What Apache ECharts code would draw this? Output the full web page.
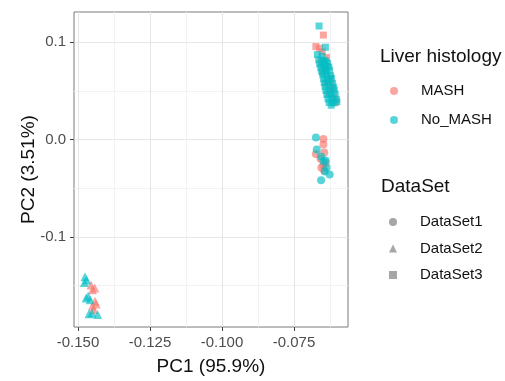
<!DOCTYPE html>
<html>
<head>
<meta charset="utf-8">
<script src="https://cdn.jsdelivr.net/npm/echarts@6/dist/echarts.min.js"></script>
<style>html,body{margin:0;padding:0;background:#fff}#c{width:505px;height:381px}</style>
</head>
<body>
<div id="c"></div>
<script>
// ---- data ----
const xTicks = [-0.150, -0.125, -0.100, -0.075];
const xMinor = [-0.1375, -0.1125, -0.0875, -0.0625];
const yTicks = [-0.1, 0.0, 0.1];
const yMinor = [-0.15, -0.05, 0.05];
const groups = ['MASH', 'No_MASH'];
const datasets = ['DataSet1', 'DataSet2', 'DataSet3'];

const MASH_DataSet1 = [[-0.0648, 0.0005], [-0.0648, -0.0052], [-0.0674, -0.0150], [-0.0645, -0.0135], [-0.0658, -0.0198], [-0.0648, -0.0267], [-0.0655, -0.0290], [-0.0645, -0.0318], [-0.0640, -0.0240]];
const NoMASH_DataSet1 = [[-0.0674, 0.0020], [-0.0671, -0.0102], [-0.0656, -0.0176], [-0.0640, -0.0217], [-0.0637, -0.0287], [-0.0626, -0.0360], [-0.0656, -0.0418], [-0.0648, -0.0225], [-0.0643, -0.0330]];

const MASH_DataSet2 = [[-0.1455, -0.1495], [-0.1450, -0.1545], [-0.1442, -0.1525], [-0.1441, -0.1662], [-0.1450, -0.1712], [-0.1446, -0.1747], [-0.1437, -0.1690]];
const NoMASH_DataSet2 = [[-0.1476, -0.1410], [-0.1470, -0.1445], [-0.1478, -0.1470], [-0.1465, -0.1611], [-0.1458, -0.1646], [-0.1472, -0.1630], [-0.1452, -0.1782], [-0.1432, -0.1798], [-0.1462, -0.1790]];

const MASH_DataSet3 = [[-0.0648, 0.1073], [-0.0674, 0.0955], [-0.0661, 0.0938], [-0.0652, 0.0902], [-0.0637, 0.0842], [-0.0636, 0.0753], [-0.0651, 0.0688], [-0.0624, 0.0632], [-0.0639, 0.0578], [-0.0617, 0.0521], [-0.0629, 0.0477], [-0.0611, 0.0431], [-0.0607, 0.0379], [-0.0655, 0.0795], [-0.0622, 0.0560]];
const NoMASH_DataSet3 = [[-0.0663, 0.1166], [-0.0641, 0.0948], [-0.0669, 0.0872], [-0.0653, 0.0856], [-0.0645, 0.0814],
  [-0.0664, 0.0818], [-0.0650, 0.0792], [-0.0639, 0.0803], [-0.0661, 0.0776], [-0.0647, 0.0764], [-0.0633, 0.0781],
  [-0.0657, 0.0738], [-0.0643, 0.0727], [-0.0629, 0.0744], [-0.0654, 0.0703], [-0.0640, 0.0696], [-0.0627, 0.0710],
  [-0.0650, 0.0662], [-0.0637, 0.0669], [-0.0623, 0.0655], [-0.0647, 0.0624], [-0.0634, 0.0616], [-0.0620, 0.0628],
  [-0.0645, 0.0583], [-0.0631, 0.0592], [-0.0616, 0.0578], [-0.0642, 0.0541], [-0.0628, 0.0549], [-0.0613, 0.0537],
  [-0.0639, 0.0503], [-0.0625, 0.0496], [-0.0610, 0.0508], [-0.0636, 0.0462], [-0.0621, 0.0458], [-0.0607, 0.0466],
  [-0.0632, 0.0418], [-0.0618, 0.0424], [-0.0603, 0.0412], [-0.0628, 0.0381], [-0.0614, 0.0376], [-0.0601, 0.0388], [-0.0621, 0.0352]];

// ---- chart ----
const FONT = 'Liberation Sans, Arial, sans-serif';
const colors = { 'MASH': '#F8766D', 'No_MASH': '#00BFC4' };
const shapes = { 'DataSet1': ['circle', 8], 'DataSet2': ['triangle', 9], 'DataSet3': ['rect', 7] };
const ptAlpha = 0.65;

function items(arr, ds) {
  return arr.map(p => ({ value: p, symbol: shapes[ds][0], symbolSize: shapes[ds][1] }));
}
const mashData = [].concat(items(MASH_DataSet1, 'DataSet1'), items(MASH_DataSet2, 'DataSet2'), items(MASH_DataSet3, 'DataSet3'));
const noMashData = [].concat(items(NoMASH_DataSet1, 'DataSet1'), items(NoMASH_DataSet2, 'DataSet2'), items(NoMASH_DataSet3, 'DataSet3'));

const X_MIN = -0.1514, X_MAX = -0.05625, Y_MIN = -0.1927, Y_MAX = 0.131;
const majorLine = { show: true, lineStyle: { color: '#E6E6E6', width: 1 } };
const minorLine = { show: true, lineStyle: { color: '#F2F2F2', width: 1 } };

const chart = echarts.init(document.getElementById('c'), null, { renderer: 'canvas' });
chart.setOption({
  animation: false,
  backgroundColor: '#fff',
  textStyle: { fontFamily: FONT },
  grid: { left: 74, top: 12, width: 274, height: 321, show: true, borderColor: '#7a7a7a', borderWidth: 1, backgroundColor: 'transparent', containLabel: false },
  title: [
    { text: 'Liver histology', left: 380, top: 47, padding: 0, textStyle: { fontFamily: FONT, fontSize: 19, fontWeight: 'normal', color: '#111' } },
    { text: 'DataSet', left: 381, top: 177, padding: 0, textStyle: { fontFamily: FONT, fontSize: 19, fontWeight: 'normal', color: '#111' } }
  ],
  legend: [
    { orient: 'vertical', left: 390, top: 83.5, padding: 0, itemGap: 14, itemWidth: 8, itemHeight: 8,
      data: groups.map(g => ({ name: g, icon: 'circle' })),
      textStyle: { fontFamily: FONT, fontSize: 15, color: '#111', padding: [0, 0, 0, 18] }, selectedMode: false },
    { orient: 'vertical', left: 389, top: 214.5, padding: 0, itemGap: 11.5, itemWidth: 8, itemHeight: 8,
      data: datasets.map(d => ({ name: d, icon: shapes[d][0] })),
      textStyle: { fontFamily: FONT, fontSize: 15, color: '#111', padding: [0, 0, 0, 18] }, selectedMode: false }
  ],
  xAxis: [
    { type: 'value', min: X_MIN, max: X_MAX, gridIndex: 0, position: 'bottom',
      name: 'PC1 (95.9%)', nameLocation: 'middle', nameGap: 30, nameMoveOverlap: false,
      nameTextStyle: { fontFamily: FONT, fontSize: 19, color: '#111' },
      axisLine: { show: false, onZero: false },
      axisTick: { show: true, customValues: xTicks, length: 4, lineStyle: { color: '#444' } },
      axisLabel: { customValues: xTicks, margin: 8, fontFamily: FONT, fontSize: 15, color: '#4D4D4D', formatter: v => v.toFixed(3) },
      splitLine: majorLine },
    { type: 'value', min: X_MIN, max: X_MAX, gridIndex: 0, position: 'top',
      axisLine: { show: false, onZero: false }, axisTick: { show: false, customValues: xMinor }, axisLabel: { show: false, customValues: xMinor },
      splitLine: minorLine }
  ],
  yAxis: [
    { type: 'value', min: Y_MIN, max: Y_MAX, gridIndex: 0, position: 'left',
      name: 'PC2 (3.51%)', nameLocation: 'middle', nameGap: 36, nameMoveOverlap: false,
      nameTextStyle: { fontFamily: FONT, fontSize: 19, color: '#111' },
      axisLine: { show: false, onZero: false },
      axisTick: { show: true, customValues: yTicks, length: 4, lineStyle: { color: '#444' } },
      axisLabel: { customValues: yTicks, margin: 8, fontFamily: FONT, fontSize: 15, color: '#4D4D4D', formatter: v => v.toFixed(1) },
      splitLine: majorLine },
    { type: 'value', min: Y_MIN, max: Y_MAX, gridIndex: 0, position: 'right',
      axisLine: { show: false, onZero: false }, axisTick: { show: false, customValues: yMinor }, axisLabel: { show: false, customValues: yMinor },
      splitLine: minorLine }
  ],
  series: [
    { name: 'MASH', type: 'scatter', xAxisIndex: 0, yAxisIndex: 0, data: mashData,
      itemStyle: { color: colors['MASH'], opacity: ptAlpha }, emphasis: { disabled: true } },
    { name: 'No_MASH', type: 'scatter', xAxisIndex: 0, yAxisIndex: 0, data: noMashData,
      itemStyle: { color: colors['No_MASH'], opacity: ptAlpha }, emphasis: { disabled: true } },
    ...datasets.map(d => ({ name: d, type: 'scatter', xAxisIndex: 0, yAxisIndex: 0, data: [],
      itemStyle: { color: 'rgba(70,70,70,0.6)' } }))
  ]
});
</script>
</body>
</html>
